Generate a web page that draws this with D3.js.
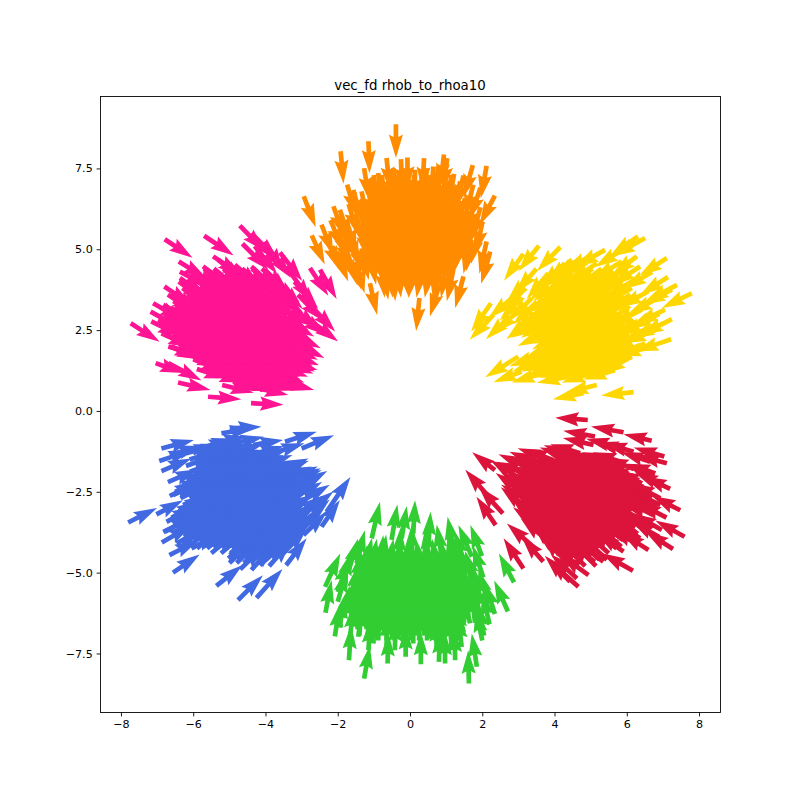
<!DOCTYPE html>
<html><head><meta charset="utf-8">
<script src="https://cdn.jsdelivr.net/npm/d3@7"></script>
<style>html,body{margin:0;padding:0;background:#fff}svg{display:block}</style></head>
<body><svg id="c" width="800" height="800"></svg>
<script>
const chartTitle = "vec_fd rhob_to_rhoa10";
const xTicks = [-8,-6,-4,-2,0,2,4,6,8];
const yTicks = [-7.5,-5,-2.5,0,2.5,5,7.5];
// each row: x, y, u, v (tail position and displacement, in data units)
const orangeArrows = [
[-.39,8.87,0,-1.05],[-1.15,8.34,.03,-1],[-1.92,8.03,.08,-1],[-2.94,6.64,.33,-.96],[-2.72,5.43,.36,-.9],[-2.45,5.76,.33,-.93],
[-2.12,6.33,.3,-.95],[-1.94,6.22,.28,-.96],[-1.74,7,.26,-.98],[-1.57,6.84,.24,-.98],[-1.27,7.51,.14,-1],[-.65,7.82,.1,-1],
[-.25,7.79,.03,-1],[-.07,7.84,0,-1],[.39,7.82,-.05,-1],[.94,7.93,-.1,-1],[1.03,7.82,-.12,-1],[.65,7.56,-.08,-1],[1.22,7.33,-.15,-1],
[1.48,7.28,-.2,-1],[1.74,7.6,-.26,-1],[2.12,7.58,-.16,-1],[2.35,6.66,-.42,-.9],[1.78,6.46,-.2,-1],[2.01,5.86,-.2,-1],[2.12,5.24,-.2,-1],[2.22,4.93,-.25,-1],
[-1.11,3.95,.2,-.98],[.26,3.49,-.09,-1.02],[.81,3.9,-.26,-.98],[1.48,4.16,-.23,-.98],[1.2,4.37,-.18,-.98],[1.7,5.3,-.14,-.98],
[-.46,4.42,.05,-1.03],[-.74,4.42,.14,-.98],[-1.62,4.67,.28,-.93],[-2.03,4.93,.32,-.93],[-2.3,5.3,.35,-.92],[-1.95,5.4,.3,-.95],
[-1.75,5.86,.26,-.96],[-1.48,6.07,.2,-.98],[-1.34,6.79,.18,-1],[-1.06,7.2,.14,-1],[-.88,7.36,.12,-1],[-.46,7.51,.06,-1],[.14,7.46,-.02,-1],[.46,7.51,-.06,-1],
[.78,7.56,-.1,-1],[1.15,7.3,-.16,-1],[1.39,7.1,-.2,-1],[1.52,6.58,-.2,-1],[1.8,6.07,-.18,-1],[1.89,5.55,-.2,-1],[1.66,5.24,-.18,-1],
[-1.94,5.24,.3,-.95],[-1.71,4.83,.26,-.96],[-1.48,4.62,.22,-.98],[-1.34,5.03,.2,-.98],
[-2.2,5.9,.34,-.93],[-1.9,5.9,.3,-.95],[-1.7,6.4,.26,-.96],[-2,5.6,.32,-.94],[-1.7,5.5,.28,-.96],[-1.55,5.2,.26,-.96],[-2.15,5.1,.34,-.93],
[1.75,7,-.22,-1],[1.95,6.9,-.3,-.98],[1.65,6.2,-.2,-1],[1.95,6.3,-.24,-1],[1.6,5.7,-.18,-1]
];
// each row: y, u, v, then the x of every tail in that row
const orangeFill = [
[7.3,.1,-1,[-1,-.78,-.55,-.33,-.1]],[7.3,-.1,-1,[.12,.35,.56,.78,1]],
[6.9,.12,-1,[-1.15,-.93,-.7,-.48,-.25,-.03]],[6.9,-.12,-1,[.2,.42,.65,.87,1.08,1.25]],
[6.5,.14,-1,[-1.3,-1.07,-.85,-.62,-.4,-.18]],[6.5,-.14,-1,[.05,.27,.5,.72,.95,1.17,1.4]],
[6.1,.16,-1,[-1.35,-1.13,-.9,-.68,-.45,-.22]],[6.1,-.16,-1,[0,.22,.45,.67,.9,1.12,1.35,1.5]],
[5.7,.18,-1,[-1.35,-1.12,-.9,-.67,-.45,-.23]],[5.7,-.18,-1,[0,.23,.45,.68,.9,1.13,1.35,1.5]],
[5.3,.18,-1,[-1.3,-1.08,-.85,-.63,-.4,-.18]],[5.3,-.18,-1,[.05,.27,.5,.72,.95,1.17,1.4]],
[4.9,.16,-1,[-1.1,-.88,-.65,-.43,-.2]],[4.9,-.16,-1,[.02,.25,.47,.7,.92,1.2]],
[4.5,.1,-1,[-.8,-.58,-.35,-.13]],[4.5,-.14,-1,[.1,.32,.55,.77,1]],
[7.1,0,-1,[-.85,-.6,-.38,-.14,.08,.32,.55,.8,1.05]],[6.7,.03,-1,[-1.1,-.85,-.62,-.38,-.15,.1,.32,.58,.8,1.05,1.3]],
[6.3,0,-1,[-1.2,-.97,-.72,-.5,-.25,-.02,.22,.45,.7,.92,1.18,1.4]],[5.9,.02,-1,[-1.2,-.96,-.74,-.5,-.27,-.04,.2,.42,.67,.9,1.14,1.38]],
[5.5,0,-1,[-1.15,-.92,-.7,-.45,-.22,0,.24,.48,.7,.94,1.18]],[5.1,-.02,-1,[-1,-.76,-.52,-.3,-.06,.18,.4,.64,.88,1.1]],
[4.7,0,-1,[-.7,-.45,-.22,.02,.25,.5,.75]]
];
const goldArrows = [
[6.51,5.35,-.92,-.57],[6.31,5.4,-.77,-.6],[3.57,5.11,-.57,-.79],[4.16,5.07,-.65,-.75],[3.14,4.86,-.54,-.83],[7.11,4.73,-.77,-.55],
[6.28,4.78,-.69,-.57],[6.37,4.47,-.78,-.57],[7.14,4.14,-.77,-.55],[7.39,3.9,-.88,-.52],[7.8,3.64,-.83,-.46],[7.25,3.75,-.83,-.46],
[3.23,4.01,-.55,-.62],[2.82,3.49,-.65,-.62],[2.24,3.33,-.55,-.88],[2.31,2.97,-.66,-.77],[2.77,2.92,-.67,-.7],[3.37,3.49,-.6,-.67],
[6.14,3.8,-.78,-.52],[7.25,2.84,-.88,-.49],[7.23,2.22,-1,-.38],[5.17,.8,-.88,-.24],[4.8,.55,-.85,-.19],[6.19,.58,-.9,-.1],
[3,1.68,-.92,-.64],[3.09,1.22,-.78,-.33],[3.69,1.17,-.88,-.29],[4.39,1.06,-.88,-.19],[5.03,1.17,-.83,-.29],[5.63,1.37,-.88,-.33],
[6.14,1.68,-.83,-.5],[5.4,4.98,-.83,-.52],[5.03,4.83,-.74,-.52],[4.29,4.57,-.69,-.72],[3.83,4.26,-.6,-.8],[7.06,3.13,-.85,-.45],[6.79,2.5,-.9,-.4],[6.7,2,-.95,-.3],
[3.93,2.51,-.95,-.5],[4.02,1.99,-.9,-.4],[3.6,1.73,-.85,-.35],[4.48,4.68,-.7,-.7],[4.71,4.73,-.72,-.66],[4.99,4.78,-.74,-.62],[5.17,4.57,-.76,-.6],
[5.86,4.62,-.8,-.55],[5.95,4.37,-.8,-.55],[6.23,4.06,-.82,-.52],[6.32,3.54,-.84,-.5],[6.42,3.13,-.85,-.48],[6.65,2.82,-.88,-.45],[6.69,2.51,-.9,-.42],
[6.51,2.09,-.9,-.38],[6.14,1.79,-.9,-.35],[5.95,1.58,-.9,-.33],[5.68,1.27,-.88,-.3],[3.97,4.16,-.65,-.75],[3.51,3.38,-.65,-.7],[3.37,2.87,-.7,-.65],[3.55,3.07,-.7,-.65],
[6.9,3.5,-.85,-.48],[6.9,3,-.86,-.46],[7,2.7,-.88,-.45],[6.6,3.7,-.82,-.5],[6.7,4.3,-.8,-.53],[5.9,5,-.78,-.55],[6.1,4.2,-.8,-.53],
[3,3.1,-.66,-.68],[3.2,3.8,-.6,-.7],[3.5,4.4,-.58,-.75],[3.1,3.5,-.62,-.7]
];
const goldFill = [
[4.4,-.72,-.62,[4.3,4.55,4.8,5.05,5.3,5.55]],
[4,-.74,-.6,[4.15,4.42,4.68,4.95,5.2,5.45,5.7]],
[3.6,-.76,-.58,[4,4.27,4.53,4.8,5.05,5.32,5.58,5.85,6.1]],
[3.2,-.78,-.56,[3.9,4.17,4.43,4.7,4.95,5.22,5.48,5.75,6.05]],
[2.8,-.8,-.54,[3.6,3.87,4.13,4.4,4.65,4.92,5.18,5.45,5.7,5.95,6.2]],
[2.4,-.82,-.5,[4.2,4.47,4.73,5,5.25,5.52,5.78,6.05,6.35]],
[2,-.85,-.45,[4.1,4.37,4.63,4.9,5.15,5.42,5.68,5.95,6.2]],
[1.6,-.87,-.38,[3.7,3.97,4.23,4.5,4.75,5.02,5.28,5.55,5.8,6]],
[1.3,-.85,-.25,[4,4.3,4.6,4.9,5.25,5.6]],
[4.2,-.74,-.6,[4.45,4.72,4.97,5.22,5.48,5.7]],[3.8,-.76,-.58,[4.25,4.5,4.78,5.02,5.28,5.55,5.8,6]],
[3.4,-.78,-.56,[4.05,4.3,4.57,4.82,5.08,5.35,5.6,5.88]],[3,-.8,-.54,[3.8,4.05,4.3,4.57,4.82,5.08,5.35,5.6,5.85,6.1]],
[2.6,-.82,-.52,[4,4.27,4.52,4.78,5.05,5.3,5.57,5.82,6.1,6.3]],[2.2,-.85,-.47,[4.3,4.55,4.82,5.08,5.35,5.6,5.87,6.15]],
[1.8,-.87,-.42,[3.9,4.25,4.5,4.77,5.02,5.28,5.55,5.82,6.05]]
];
const crimsonArrows = [
[4.92,-.28,-.9,.07],[5.91,-.66,-.9,.18],[6.69,-.92,-.78,.2],[7.6,-3.89,-.81,.5],[7.28,-4.27,-.77,.54],[6.17,-4.94,-.86,.54],
[7.48,-3.07,-.78,.44],[7.2,-2.41,-.74,.38],[4.66,-5.44,-.83,.83],[3.14,-4.87,-.55,.93],[3.69,-4.66,-.6,.77],[3.46,-4.25,-.78,.77],
[2.37,-3.53,-.53,.88],[2.57,-3.17,-.67,.83],[2.22,-2.7,-.69,.88],[2.35,-1.83,-.63,.55],[7.04,-1.41,-.85,.28],[7.11,-1.62,-.83,.26],
[6.79,-1.93,-.78,.3],[6.42,-2.24,-.7,.4],[3.14,-1.93,-.76,.36],[3.53,-1.62,-.78,.36],[3.77,-1.48,-.79,.33],[4.39,-1.44,-.8,.31],
[4.71,-1.31,-.83,.28],[5.08,-1.05,-.85,.21],[5.12,-.79,-.88,.18],[5.96,-1.21,-.83,.24],[5.12,-4.66,-.8,.6],[4.94,-5.08,-.78,.65],
[6.32,-4.15,-.75,.55],[5.91,-4.35,-.75,.6],[6.97,-3.68,-.8,.5],[6.74,-3.22,-.8,.45],[6.93,-2.91,-.8,.45],
[6.83,-3,-.8,.48],[6.93,-2.7,-.8,.46],[6.65,-3.6,-.8,.5],[6.37,-3.94,-.78,.55],[6,-4.05,-.78,.58],[5.72,-4.25,-.76,.6],[5.35,-4.66,-.75,.65],[4.62,-5.18,-.72,.75],[4.43,-5.28,-.7,.8],
[6.74,-1.98,-.8,.35],[6.65,-1.57,-.82,.3],[6.19,-1.26,-.83,.26],[5.72,-1.1,-.85,.24],[4.52,-1.36,-.82,.3],[3.97,-1.52,-.8,.34],[3.23,-1.72,-.78,.38],[2.95,-2.03,-.72,.5],
[3.09,-2.5,-.72,.58],[3.23,-3.01,-.72,.65],[3.55,-3.48,-.7,.72],[3.88,-3.84,-.7,.75],[4.06,-4.25,-.68,.8],[4.34,-4.67,-.7,.8],
[7,-2.3,-.78,.4],[7.1,-3.3,-.8,.46],[6.6,-4.3,-.76,.54],[6.9,-3.9,-.78,.5]
];
const crimsonFill = [
[-1.6,-.84,.32,[4.7,5,5.3,5.6,5.9]],
[-1.8,-.8,.35,[3.7,4,4.3,4.6,4.9,5.2,5.5,5.8,6.2]],
[-2.1,-.78,.42,[3.5,3.77,4.03,4.3,4.55,4.82,5.08,5.35,5.6,5.9,6.2]],
[-2.4,-.78,.5,[3.3,3.57,3.83,4.1,4.35,4.62,4.88,5.15,5.4,5.67,5.93,6.2,6.5]],
[-2.8,-.78,.52,[3.3,3.57,3.83,4.1,4.35,4.62,4.88,5.15,5.4,5.67,5.93,6.2,6.45,6.7]],
[-3.2,-.76,.58,[3.5,3.77,4.03,4.3,4.55,4.82,5.08,5.35,5.6,5.87,6.13,6.4,6.7]],
[-3.6,-.75,.62,[3.6,3.87,4.13,4.4,4.65,4.92,5.18,5.45,5.7,5.97,6.23,6.5]],
[-4,-.74,.68,[3.8,4.07,4.33,4.6,4.85,5.12,5.38,5.65,5.9,6.1]],
[-4.4,-.72,.72,[4.2,4.47,4.73,5,5.25,5.5]],
[-4.8,-.7,.78,[4.6,4.85,5.15]],
[-1.95,-.8,.38,[3.85,4.15,4.42,4.68,4.95,5.22,5.5,5.78,6.05]],[-2.25,-.78,.46,[3.65,3.92,4.18,4.45,4.72,4.98,5.25,5.52,5.8,6.05,6.3]],
[-2.6,-.78,.5,[3.45,3.72,3.98,4.25,4.5,4.78,5.02,5.3,5.55,5.82,6.08,6.35,6.6]],[-3,-.78,.55,[3.62,3.9,4.15,4.42,4.7,4.95,5.22,5.48,5.75,6,6.28,6.55]],
[-3.4,-.76,.6,[3.75,4,4.27,4.52,4.78,5.05,5.32,5.58,5.85,6.1,6.35]],[-3.8,-.74,.66,[3.95,4.22,4.48,4.72,5,5.25,5.52,5.78,6.05,6.3]],
[-4.2,-.72,.7,[4.3,4.55,4.8,5.05,5.32,5.6,5.85]],[-4.6,-.72,.74,[4.45,4.72,5,5.25,5.45]]
];
const greenArrows = [
[-1.27,-8.28,.16,1.03],[1.63,-8.43,-.02,1.03],[-1.69,-7.71,.06,1.08],[.3,-7.83,0,1],[-.62,-7.81,.02,.95],[-.12,-7.6,0,.95],
[.8,-7.76,.03,.98],[.97,-7.81,0,.98],[1.25,-7.71,-.02,.98],[1.85,-7.91,-.14,1.03],[2,-7.1,-.18,.98],[-2.08,-6.97,.14,1.01],
[-2.34,-6.24,.17,1.01],[-2.35,-5.44,.42,1.03],[-1.86,-5.29,.23,.93],[-1.06,-3.94,.23,1.13],[-.51,-3.99,.16,1.1],[.09,-3.79,.05,1.03],
[-.23,-3.94,.14,1],[.51,-4.15,.06,1.03],[1.2,-4.25,-.16,.98],[1.99,-4.49,-.32,.96],[1.71,-4.51,-.37,.98],[2.88,-5.3,-.42,.89],
[2.71,-6.2,-.38,.96],[2.35,-6.28,-.28,.97],[2.03,-5.15,-.3,1],[-1.48,-4.72,.23,1.03],[-.83,-4.82,.09,.98],[-1.43,-6.98,.1,1],[-1.15,-7.4,.05,.95],
[-1.39,-5.23,.24,1],[-1.25,-4.92,.2,1],[-1.57,-5.75,.22,1],[-1.71,-6.26,.18,1],[-1.66,-6.99,.1,1],[-1.02,-7.19,.08,1],[-.65,-7.25,.04,1],[-.42,-7.4,.03,1],
[.09,-7.19,0,1],[.55,-7.04,-.02,1],[.74,-7.4,-.03,1],[1.15,-7.3,-.06,1],[1.43,-7.3,-.1,1],[1.66,-6.57,-.18,1],[1.99,-5.95,-.25,1],[1.8,-5.33,-.28,1],
[1.52,-4.72,-.3,1],[1.25,-4.61,-.2,1],[.88,-4.51,-.14,1],[.51,-4.56,-.08,1],[.05,-4.51,0,1],[-.32,-4.61,.06,1],[-.78,-4.82,.12,1],
[-2,-5.9,.26,1],[-1.85,-6.4,.18,1],[-1.95,-6.7,.14,1],[-2,-5.6,.3,1],[-1.7,-4.95,.26,1],[2.2,-6.6,-.2,1],[2.15,-5.9,-.26,1],[2.05,-6.95,-.16,1]
];
const greenFill = [
[-4.95,.14,1,[-1.06,-.83,-.6,-.38,-.15]],[-4.95,-.14,1,[.08,.3,.53,.75,.98,1.2,1.43]],
[-5.35,.16,1,[-1.5,-1.27,-1.05,-.82,-.6,-.38,-.15]],[-5.35,-.16,1,[.08,.3,.53,.75,.98,1.2,1.45,1.7]],
[-5.75,.16,1,[-1.6,-1.37,-1.15,-.92,-.7,-.47,-.25,-.02]],[-5.75,-.18,1,[.2,.43,.65,.88,1.1,1.33,1.55,1.9]],
[-6.15,.12,1,[-1.65,-1.42,-1.2,-.97,-.75,-.52,-.3,-.07]],[-6.15,-.14,1,[.15,.38,.6,.83,1.05,1.28,1.5,1.72,1.9]],
[-6.55,.1,1,[-1.65,-1.42,-1.2,-.97,-.75,-.52,-.3,-.07]],[-6.55,-.1,1,[.15,.38,.6,.83,1.05,1.28,1.5,1.8]],
[-6.95,.06,1,[-1.4,-1.17,-.95,-.72,-.5,-.27,-.05]],[-6.95,-.06,1,[.18,.4,.63,.85,1.08,1.4]],
[-7.1,.03,1,[-.88,-.65,-.43,-.2,.02,.25,.47,.7,.92,1.15,1.35]],
[-5.15,0,1,[-1.2,-.95,-.72,-.48,-.25,0,.22,.46,.7,.92,1.16,1.4]],[-5.55,.02,1,[-1.4,-1.16,-.92,-.7,-.46,-.22,.02,.25,.5,.72,.96,1.2,1.44]],
[-5.95,0,1,[-1.45,-1.2,-.98,-.74,-.5,-.27,-.02,.22,.45,.7,.92,1.18,1.4,1.65]],[-6.35,.01,1,[-1.5,-1.26,-1.02,-.8,-.55,-.32,-.08,.16,.4,.63,.88,1.1,1.35,1.6]],
[-6.75,0,1,[-1.45,-1.2,-.96,-.73,-.5,-.25,-.02,.22,.45,.7,.93,1.18,1.42]]
];
const blueArrows = [
[-7.8,-3.45,.8,.45],[-7.02,-3.2,.74,.44],[-6.88,-1.16,.9,.26],[-6.94,-1.55,.9,.34],[-6.88,-1.86,.83,.39],[-6.65,-2.63,.78,.44],
[-6.83,-3.74,.88,.46],[-6.87,-4.07,.83,.54],[-6.66,-4.46,.8,.46],[-6.56,-5,.74,.56],[-5.36,-5.41,.72,.64],[-4.76,-5.85,.69,.77],
[-4.25,-5.78,.72,.89],[-4.39,-4.92,.6,.77],[-3.43,-4.77,.57,.83],[-2.45,-3.58,.51,.83],[-2.31,-3.12,.66,1.08],[-2.77,-3.06,.65,.57],
[-3.14,-2.4,.85,.54],[-3.46,-.95,.88,.31],[-3,-1.16,.9,.41],[-4.34,-1.05,.83,.15],[-4.99,-.54,.88,.05],[-5.22,-.69,.88,.15],
[-5.68,-1.11,.83,.26],[-3.69,-1.88,.88,.41],[-3.32,-2.14,.88,.31],[-4.16,-4.77,.74,.72],[-5.03,-4.56,.69,.62],[-5.45,-4.2,.74,.52],
[-6.05,-4.25,.78,.46],[-3.88,-4.3,.74,.83],[-2.95,-3.84,.65,.72],
[-6.65,-1.36,.88,.28],[-6.09,-1.88,.85,.36],[-6.56,-2.6,.82,.42],[-6.28,-2.91,.8,.46],[-6.74,-3.43,.8,.48],[-6.79,-3.74,.8,.5],[-6.46,-4.1,.78,.5],[-5.72,-4.2,.76,.55],
[-5.36,-4.15,.74,.58],[-4.99,-4.46,.72,.62],[-4.8,-4.56,.7,.66],[-4.25,-4.46,.7,.7],[-3.97,-4.25,.68,.72],[-3.42,-4.05,.65,.75],[-3.05,-3.74,.65,.72],[-3.14,-3.22,.72,.6],
[-3.23,-2.7,.8,.5],[-3.32,-2.19,.85,.42],[-4.34,-1.36,.85,.28],[-4.89,-1,.85,.2],[-5.36,-1,.85,.22],[-5.77,-1.16,.85,.26],[-6.19,-1.31,.85,.28],
[-3,-2.8,.78,.52],[-2.9,-3.4,.68,.66],[-3.5,-4.4,.64,.76],[-4.7,-4.9,.66,.72],[-3.9,-4.8,.62,.78],[-3.8,-1.3,.88,.3],[-6.7,-2.2,.84,.4]
];
const blueFill = [
[-1.3,.85,.28,[-6,-5.73,-5.47,-5.2,-4.9]],
[-1.7,.85,.34,[-6.2,-5.93,-5.67,-5.4,-5.15,-4.88,-4.62,-4.35,-4.1]],
[-2.1,.85,.38,[-6.2,-5.93,-5.67,-5.4,-5.15,-4.88,-4.62,-4.35,-4.1,-3.83,-3.57,-3.4]],
[-2.5,.82,.44,[-6.5,-6.23,-5.97,-5.7,-5.45,-5.18,-4.92,-4.65,-4.4,-4.13,-3.87,-3.6,-3.3]],
[-2.9,.8,.48,[-6.2,-5.93,-5.67,-5.4,-5.15,-4.88,-4.62,-4.35,-4.1,-3.83,-3.6]],
[-3.3,.78,.52,[-6.6,-6.33,-6.07,-5.8,-5.55,-5.28,-5.02,-4.75,-4.5,-4.23,-3.97,-3.6]],
[-3.7,.76,.56,[-6.7,-6.43,-6.17,-5.9,-5.65,-5.38,-5.12,-4.85,-4.6,-4.33,-4.07,-3.8,-3.55,-3.3]],
[-4.1,.72,.62,[-6.3,-6.03,-5.77,-5.5,-5.25,-4.98,-4.72,-4.45,-4.2,-3.93,-3.6]],
[-4.4,.7,.66,[-5.5,-5.23,-4.97,-4.7,-4.45,-4.18,-3.9]],
[-4.7,.68,.7,[-5,-4.8,-4.6]],
[-1.5,.85,.3,[-6.1,-5.85,-5.58,-5.32,-5.05,-4.78,-4.52,-4.25]],[-1.9,.85,.36,[-6,-5.75,-5.48,-5.22,-4.95,-4.7,-4.42,-4.15,-3.9,-3.65]],
[-2.3,.82,.42,[-6.3,-6.05,-5.78,-5.52,-5.25,-5,-4.72,-4.45,-4.2,-3.95,-3.7,-3.45]],[-2.7,.8,.46,[-6.35,-6.1,-5.85,-5.58,-5.32,-5.05,-4.78,-4.52,-4.25,-4,-3.72,-3.5]],
[-3.1,.8,.5,[-6.4,-6.15,-5.88,-5.62,-5.35,-5.1,-4.82,-4.55,-4.3,-4.03,-3.78,-3.5]],[-3.5,.78,.54,[-6.55,-6.3,-6.03,-5.77,-5.5,-5.25,-4.97,-4.7,-4.45,-4.18,-3.92,-3.65,-3.4]],
[-3.9,.74,.6,[-6.5,-6.25,-5.98,-5.72,-5.45,-5.2,-4.92,-4.65,-4.4,-4.13,-3.87,-3.6]],[-4.25,.72,.64,[-5.9,-5.62,-5.35,-5.1,-4.82,-4.55,-4.3,-4,-3.75]]
];
const pinkArrows = [
[-6.79,5.31,.77,-.57],[-5.7,5.42,.82,-.61],[-4.71,5.73,.69,-.79],[-4.64,5.17,.72,-.8],[-4.39,5.5,.74,-.85],[-4.02,5.24,.51,-.93],
[-3.37,4.37,.65,-1],[-2.77,4.42,.51,-.86],[-2.49,4.37,.46,-.91],[-2.72,3.23,.65,-.77],[-2.91,2.92,.92,-.77],[-7.73,2.71,.8,-.57],
[-7.11,3.33,.83,-.52],[-7.18,3.07,.85,-.52],[-7.16,2.77,.83,-.46],[-6.8,3.85,.76,-.57],[-6.4,4.62,.77,-.52],[-6.37,4.31,.78,-.46],
[-7.04,1.48,.77,-.31],[-6.69,1.48,.92,-.54],[-6.42,.88,.9,-.23],[-5.59,.44,.92,-.08],[-4.4,.24,.9,-.05],[-4.2,.7,.83,-.21],
[-3.83,.96,1,-.31],[-3.46,1.58,.9,-.31],[-3.28,2.09,.78,-.31],[-5.45,4.78,.78,-.57],[-6.69,1.99,.83,-.26],[-6.05,1.78,.83,-.41],
[-5.54,1.37,.78,-.31],[-4.75,1,.92,-.26],[-3.74,1.27,.69,-.21],
[-6.37,4.11,.76,-.58],[-6.05,4.37,.76,-.6],[-5.73,4.47,.75,-.62],[-5.31,4.67,.74,-.66],[-4.85,4.52,.72,-.68],[-4.39,4.47,.7,-.72],[-4.02,4.37,.68,-.76],[-3.65,3.95,.68,-.8],
[-3.28,3.23,.75,-.7],[-3.42,2.61,.8,-.6],[-3.19,2.09,.82,-.45],[-3.37,1.79,.85,-.38],[-3.55,1.48,.88,-.32],[-3.92,1.27,.88,-.28],[-4.39,.86,.9,-.22],[-4.85,.96,.9,-.24],
[-5.31,1.27,.88,-.28],[-5.68,1.48,.86,-.32],[-6.09,1.73,.85,-.36],[-6.65,1.99,.85,-.36],[-6.88,2.4,.84,-.42],[-6.97,2.82,.82,-.46],[-6.83,3.28,.8,-.5],[-6.6,3.64,.78,-.55],
[-3.6,4.9,.62,-.88],[-3.9,5,.6,-.88],[-3.2,4,.66,-.85],[-3.1,3.6,.68,-.8],[-3.1,3,.78,-.66],[-4.3,5.1,.62,-.86],[-5.9,1.3,.85,-.3],[-5.2,.8,.88,-.24],[-3.5,.9,.85,-.25]
];
const pinkFill = [
[4.4,.72,-.66,[-5.7,-5.43,-5.17,-4.9,-4.65,-4.38,-4.1]],
[4,.74,-.62,[-6.4,-6.13,-5.87,-5.6,-5.35,-5.08,-4.82,-4.55,-4.3,-4.03,-3.8]],
[3.6,.76,-.58,[-6.7,-6.43,-6.17,-5.9,-5.65,-5.38,-5.12,-4.85,-4.6,-4.33,-4.07,-3.7]],
[3.2,.78,-.54,[-6.9,-6.63,-6.37,-6.1,-5.85,-5.58,-5.32,-5.05,-4.8,-4.53,-4.27,-4,-3.6]],
[2.8,.8,-.5,[-6.9,-6.63,-6.37,-6.1,-5.85,-5.58,-5.32,-5.05,-4.8,-4.53,-4.27,-4,-3.75,-3.45]],
[2.4,.83,-.46,[-6.8,-6.53,-6.27,-6,-5.75,-5.48,-5.22,-4.95,-4.7,-4.43,-4.17,-3.9,-3.65,-3.3]],
[2,.85,-.42,[-6.6,-6.33,-6.07,-5.8,-5.55,-5.28,-5.02,-4.75,-4.5,-4.23,-3.97,-3.7,-3.4]],
[1.6,.87,-.38,[-6,-5.73,-5.47,-5.2,-4.95,-4.68,-4.42,-4.15,-3.9,-3.5]],
[1.2,.88,-.32,[-5.5,-5.23,-4.97,-4.7,-4.45,-4.18,-3.8]],
[.9,.88,-.26,[-4.9,-4.6,-4.1]],
[4.2,.74,-.64,[-5.9,-5.62,-5.35,-5.1,-4.82,-4.55,-4.3,-4.05]],[3.8,.76,-.6,[-6.3,-6.02,-5.75,-5.5,-5.22,-4.95,-4.7,-4.42,-4.15,-3.9]],
[3.4,.78,-.56,[-6.55,-6.28,-6,-5.75,-5.48,-5.22,-4.95,-4.68,-4.42,-4.15,-3.85]],[3,.8,-.52,[-6.75,-6.5,-6.22,-5.95,-5.7,-5.43,-5.17,-4.9,-4.65,-4.38,-4.12,-3.85,-3.6]],
[2.6,.82,-.48,[-6.7,-6.45,-6.18,-5.92,-5.65,-5.4,-5.12,-4.85,-4.6,-4.33,-4.08,-3.8,-3.5]],[2.2,.85,-.44,[-6.45,-6.2,-5.93,-5.67,-5.4,-5.15,-4.87,-4.6,-4.35,-4.08,-3.82,-3.55]],
[1.8,.86,-.4,[-5.9,-5.65,-5.38,-5.12,-4.85,-4.6,-4.32,-4.05,-3.8,-3.55]],[1.4,.88,-.34,[-5.3,-5.05,-4.78,-4.52,-4.25,-4,-3.7]]
];
const seriesArrows = [orangeArrows, goldArrows, crimsonArrows, greenArrows, blueArrows, pinkArrows];
const seriesFill = [orangeFill, goldFill, crimsonFill, greenFill, blueFill, pinkFill];
const seriesColors = ["#ff8c00","#ffd700","#dc143c","#32cd32","#4169e1","#ff1493"];

const W = 4.7; // shaft width in px
const svg = d3.select("#c");
const x = d3.scaleLinear().domain([-8.58,8.58]).range([100,720]);
const y = d3.scaleLinear().domain([-9.31,9.74]).range([712,96]);

svg.append("rect").attr("width",800).attr("height",800).attr("fill","#fff");

function arrowPath(d){
  const x0=x(d[0]),y0=y(d[1]),x1=x(d[0]+d[2]),y1=y(d[1]+d[3]);
  const L=Math.hypot(x1-x0,y1-y0),c=(x1-x0)/L,s=(y1-y0)/L;
  const p=[[0,.5],[L-4.5*W,.5],[L-5*W,1.5],[L,0],[L-5*W,-1.5],[L-4.5*W,-.5],[0,-.5]];
  return "M"+p.map(q=>{const a=q[0],b=q[1]*W;return [x0+a*c-b*s,y0+a*s+b*c].map(v=>v.toFixed(2)).join(",")}).join("L")+"Z";
}
seriesArrows.forEach((rows,i)=>{
  const filled = seriesFill[i].flatMap(r=>r[3].map(px=>[px,r[0],r[1],r[2]]));
  svg.append("g").attr("fill",seriesColors[i]).selectAll("path").data(rows.concat(filled)).join("path").attr("d",arrowPath);
});

const gx = svg.append("g").attr("transform","translate(0,712.5)").call(d3.axisBottom(x).tickValues(xTicks).tickFormat(d3.format("d")).tickSizeOuter(0).tickSize(3.9).tickPadding(3.9));
const gy = svg.append("g").attr("transform","translate(100.5,0)").call(d3.axisLeft(y).tickValues(yTicks).tickFormat(d3.format(".1f")).tickSizeOuter(0).tickSize(3.9).tickPadding(3.9));
[gx,gy].forEach(g=>{
  g.selectAll("text").attr("font-family","DejaVu Sans").attr("font-size",11.1).attr("fill","#000");
  g.selectAll("line").attr("stroke","#000").attr("stroke-width",.89);
  g.select(".domain").remove();
});
svg.append("rect").attr("x",100.5).attr("y",96.5).attr("width",620).attr("height",616).attr("fill","none").attr("stroke","#000").attr("stroke-width",.89);
svg.append("text").attr("x",410).attr("y",90).attr("text-anchor","middle").attr("font-family","DejaVu Sans").attr("font-size",13.33).attr("fill","#000").text(chartTitle);
</script></body></html>
